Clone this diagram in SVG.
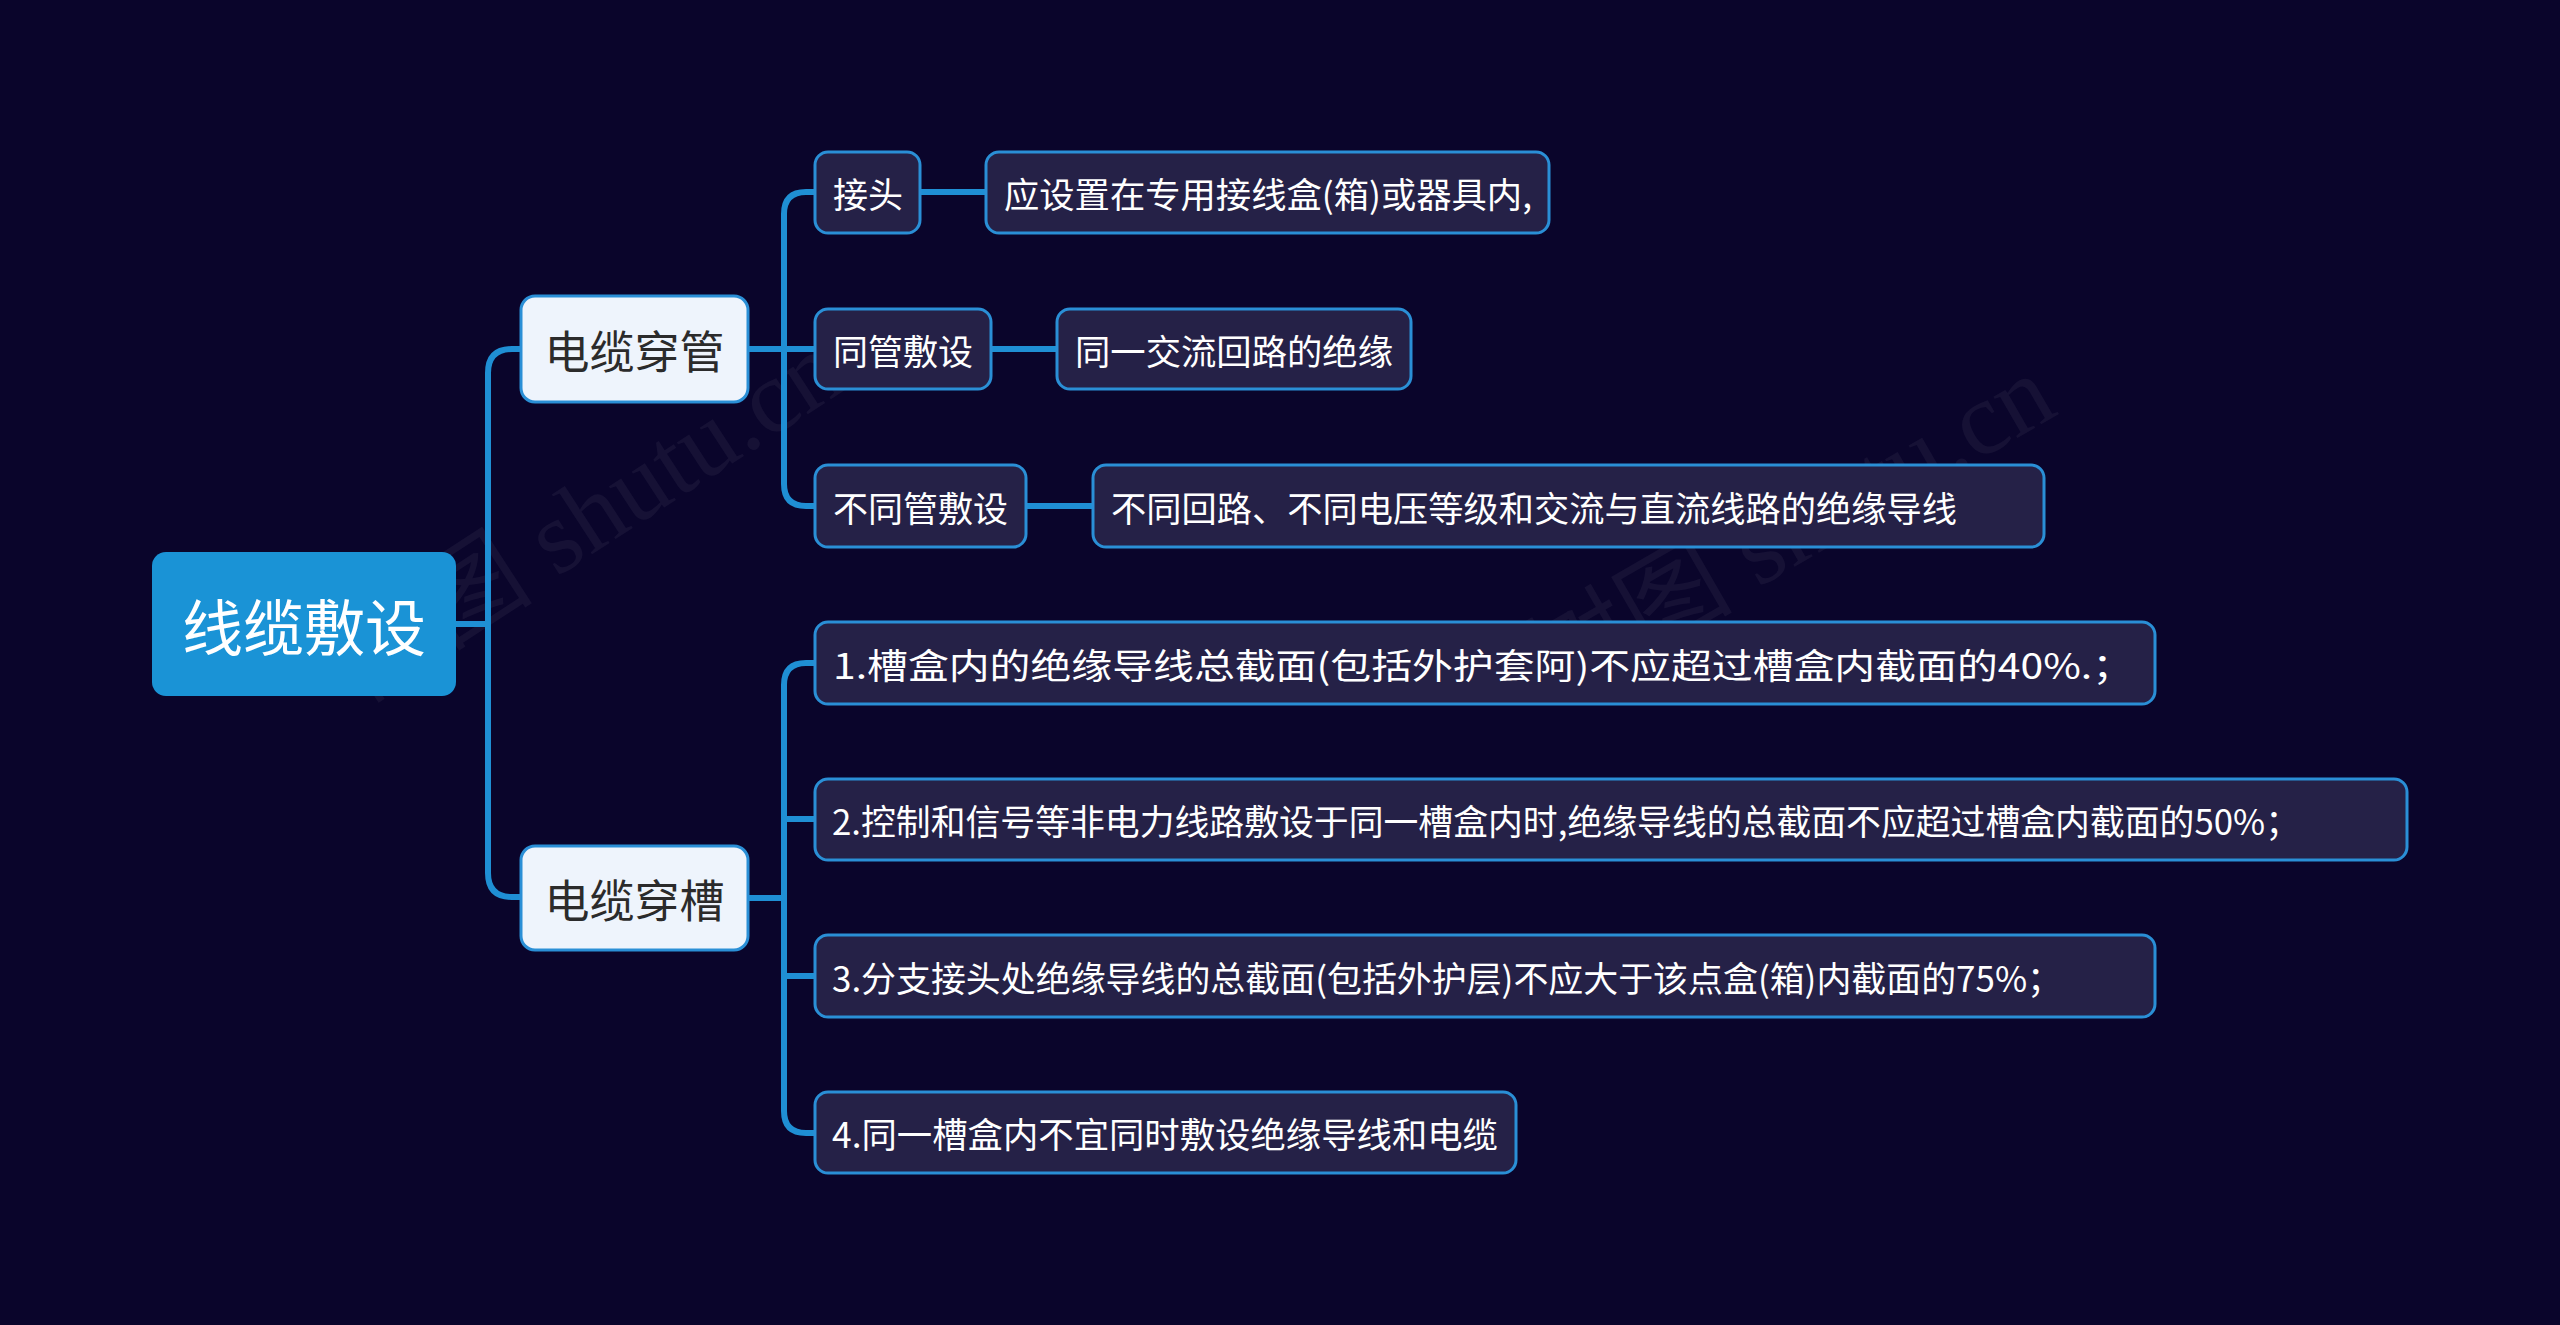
<svg xmlns="http://www.w3.org/2000/svg" width="2560" height="1325" viewBox="0 0 2560 1325">
<style>
.bg{fill:#0a052b}
.wm{font-family:"Liberation Serif","Noto Sans CJK SC",serif;font-size:104px;fill:#ffffff;fill-opacity:0.05}
.root rect{fill:#1a93d6}
.root text{font-family:"Noto Sans CJK SC",sans-serif;font-size:61px;fill:#ffffff;text-anchor:middle;dominant-baseline:central}
.l2 rect{fill:#eef4fc;stroke:#2a8fd6;stroke-width:3}
.l2 text{font-family:"Noto Sans CJK SC",sans-serif;font-size:45px;fill:#2b2b2b;text-anchor:middle;dominant-baseline:central}
.l3 rect{fill:#252147;stroke:#2a8fd6;stroke-width:3}
.l3 text{font-family:"Noto Sans CJK SC",sans-serif;font-size:35px;fill:#ffffff;dominant-baseline:central}
.conn path{fill:none;stroke:#1f8fd4;stroke-width:6;stroke-linecap:round}
</style>
<rect class="bg" x="0" y="0" width="2560" height="1325"/>
<text class="wm" x="360" y="705" transform="rotate(-33 360 705)">树图 shutu.cn</text>
<text class="wm" x="1555" y="705" transform="rotate(-30 1555 705)">树图 shutu.cn</text>
<g id="connectors" class="conn">
<path d="M455 624 H488"/>
<path d="M521 349 H512 Q488 349 488 373 V873 Q488 897 512 897 H521"/>
<path d="M748 349 H784"/>
<path d="M815 192 H806 Q784 192 784 214 V484 Q784 506 806 506 H815"/>
<path d="M784 349 H815"/>
<path d="M748 898 H784"/>
<path d="M815 663 H806 Q784 663 784 685 V1111 Q784 1133 806 1133 H815"/>
<path d="M784 819 H815"/>
<path d="M784 976 H815"/>
<path d="M920 192 H986"/>
<path d="M991 349 H1057"/>
<path d="M1026 506 H1093"/>
</g>
<g id="n-root" class="root"><rect x="152" y="552" width="304" height="144" rx="14"/><text x="304" y="624">线缆敷设</text></g>
<g id="n-guan" class="l2"><rect x="521" y="296" width="227" height="106" rx="14"/><text x="634.5" y="349">电缆穿管</text></g>
<g id="n-cao" class="l2"><rect x="521" y="846" width="227" height="104" rx="14"/><text x="634.5" y="898">电缆穿槽</text></g>
<g id="n-jietou" class="l3"><rect x="815" y="152" width="105" height="81" rx="13"/><text x="833" y="192.5">接头</text></g>
<g id="n-jietou-d" class="l3"><rect x="986" y="152" width="563" height="81" rx="13"/><text x="1004" y="192.5" textLength="528" lengthAdjust="spacingAndGlyphs">应设置在专用接线盒(箱)或器具内,</text></g>
<g id="n-tong" class="l3"><rect x="815" y="309" width="176" height="80" rx="13"/><text x="833" y="349">同管敷设</text></g>
<g id="n-tong-d" class="l3"><rect x="1057" y="309" width="354" height="80" rx="13"/><text x="1075" y="349" textLength="318" lengthAdjust="spacingAndGlyphs">同一交流回路的绝缘</text></g>
<g id="n-butong" class="l3"><rect x="815" y="465" width="211" height="82" rx="13"/><text x="833" y="506">不同管敷设</text></g>
<g id="n-butong-d" class="l3"><rect x="1093" y="465" width="951" height="82" rx="13"/><text x="1111" y="506" textLength="846" lengthAdjust="spacingAndGlyphs">不同回路、不同电压等级和交流与直流线路的绝缘导线</text></g>
<g id="n-c1" class="l3"><rect x="815" y="622" width="1340" height="82" rx="13"/><text x="833" y="663" textLength="1300" lengthAdjust="spacingAndGlyphs">1.槽盒内的绝缘导线总截面(包括外护套阿)不应超过槽盒内截面的40%.；</text></g>
<g id="n-c2" class="l3"><rect x="815" y="779" width="1592" height="81" rx="13"/><text x="832" y="819.5" textLength="1468" lengthAdjust="spacingAndGlyphs">2.控制和信号等非电力线路敷设于同一槽盒内时,绝缘导线的总截面不应超过槽盒内截面的50%；</text></g>
<g id="n-c3" class="l3"><rect x="815" y="935" width="1340" height="82" rx="13"/><text x="832" y="976" textLength="1230" lengthAdjust="spacingAndGlyphs">3.分支接头处绝缘导线的总截面(包括外护层)不应大于该点盒(箱)内截面的75%；</text></g>
<g id="n-c4" class="l3"><rect x="815" y="1092" width="701" height="81" rx="13"/><text x="832" y="1132.5" textLength="666" lengthAdjust="spacingAndGlyphs">4.同一槽盒内不宜同时敷设绝缘导线和电缆</text></g>
</svg>
